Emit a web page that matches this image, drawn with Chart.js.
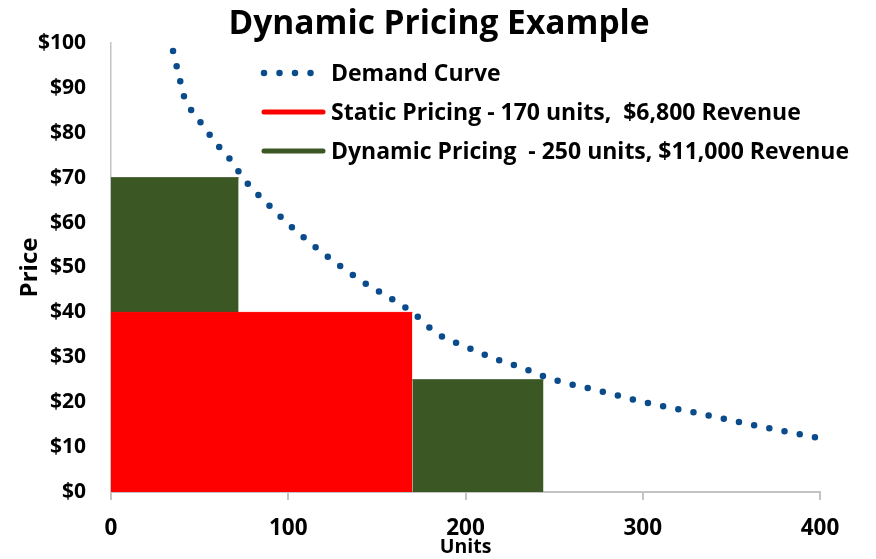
<!DOCTYPE html>
<html>
<head>
<meta charset="utf-8">
<script src="https://cdn.jsdelivr.net/npm/chart.js@4.4.1/dist/chart.umd.min.js"></script>
<style>
  body { margin: 0; background: #fff; }
  #wrap { width: 876px; height: 559px; position: relative; }
</style>
</head>
<body>
<div id="wrap"><canvas id="pricingChart"></canvas></div>
<script>
// Demand curve
const demandUnits = [35, 37, 39, 41, 45, 50, 55, 60, 66, 76, 88, 100, 120, 141, 164, 171, 184, 200, 216, 233, 249, 275, 301, 327, 353, 379, 400];
const demandPrice = [98.2, 94.9, 91.6, 88.3, 85.2, 82.6, 79.9, 77.3, 74.7, 69.2, 64.3, 59.7, 53.1, 47.1, 41.6, 39.7, 35.3, 32.4, 29.8, 27.5, 25.1, 22.6, 20.0, 17.9, 15.7, 13.6, 12.0];

// Static pricing block: 170 units at $40
const staticUnits = [0, 170];
const staticPrice = [40, 40];

// Dynamic pricing tiers
const dynHighUnits = [0, 72];
const dynHighPrice = [70, 70];
const dynHighFloor = 40;
const dynLowUnits = [170, 244];
const dynLowPrice = [25, 25];

const xTicks = [0, 100, 200, 300, 400];
const yTicks = [0, 10, 20, 30, 40, 50, 60, 70, 80, 90, 100];

const labels = {
  demand: 'Demand Curve',
  static: 'Static Pricing - 170 units,  $6,800 Revenue',
  dynamic: 'Dynamic Pricing  - 250 units, $11,000 Revenue'
};

const navy = '#0a4b8c';
const red = '#ff0000';
const green = '#3b5724';
const FONT = '"Open Sans", Lato, sans-serif';

function pts(xs, ys) {
  return xs.map((x, i) => ({ x: x, y: ys[i] }));
}

// legend drawn inside the plot, like the original
const insideLegend = {
  id: 'insideLegend',
  afterDatasetsDraw(chart) {
    const ctx = chart.ctx;
    const area = chart.chartArea;
    const x0 = area.left + 151;
    let y = area.top + 30;
    ctx.save();
    ctx.font = 'bold 23px ' + FONT;
    ctx.textBaseline = 'middle';
    ctx.fillStyle = '#000';
    chart.data.datasets.forEach(ds => {
      if (ds.hideInLegend) return;
      ctx.beginPath();
      ctx.strokeStyle = ds.borderColor;
      ctx.lineCap = 'round';
      if (ds.borderDash) {
        ctx.lineWidth = ds.borderWidth;
        ctx.setLineDash(ds.borderDash);
        ctx.moveTo(x0 + 2, y);
        ctx.lineTo(x0 + 50, y);
      } else {
        ctx.lineWidth = 5;
        ctx.setLineDash([]);
        ctx.moveTo(x0 + 2, y);
        ctx.lineTo(x0 + 61, y);
      }
      ctx.stroke();
      ctx.setLineDash([]);
      ctx.fillText(ds.label, x0 + 69, y + 1);
      y += 39;
    });
    ctx.restore();
  }
};

new Chart(document.getElementById('pricingChart'), {
  type: 'line',
  data: {
    datasets: [
      {
        label: labels.demand,
        data: pts(demandUnits, demandPrice),
        borderColor: navy,
        borderWidth: 6.5,
        borderDash: [0, 15.5],
        borderCapStyle: 'round',
        cubicInterpolationMode: 'monotone',
        pointRadius: 0,
        fill: false
      },
      {
        label: labels.static,
        data: pts(staticUnits, staticPrice),
        borderColor: red,
        backgroundColor: red,
        borderWidth: 1,
        pointRadius: 0,
        fill: 'origin'
      },
      {
        label: labels.dynamic,
        data: pts(dynHighUnits, dynHighPrice),
        borderColor: green,
        backgroundColor: green,
        borderWidth: 1,
        pointRadius: 0,
        fill: { value: dynHighFloor }
      },
      {
        label: labels.dynamic,
        hideInLegend: true,
        data: pts(dynLowUnits, dynLowPrice),
        borderColor: green,
        backgroundColor: green,
        borderWidth: 1,
        pointRadius: 0,
        fill: 'origin'
      }
    ]
  },
  options: {
    responsive: true,
    maintainAspectRatio: false,
    animation: false,
    layout: { padding: { left: 2, right: 0, top: 0, bottom: 0 } },
    plugins: {
      legend: { display: false },
      tooltip: { enabled: false },
      title: {
        display: true,
        text: 'Dynamic Pricing Example',
        color: '#000',
        font: { family: FONT, size: 33.5, weight: 'bold', lineHeight: 1.0 },
        padding: { top: 8, bottom: 1.5 }
      }
    },
    scales: {
      x: {
        type: 'linear',
        min: xTicks[0],
        max: xTicks[xTicks.length - 1],
        afterBuildTicks: s => { s.ticks = xTicks.map(v => ({ value: v })); },
        afterFit: s => { s.height = 67; },
        border: { display: true, color: '#c3c3c3', width: 2 },
        grid: { drawOnChartArea: false, drawTicks: true, tickLength: 8, color: '#c3c3c3', lineWidth: 2 },
        ticks: { color: '#000', padding: 15, font: { family: FONT, size: 22.5, weight: 'bold' } },
        title: {
          display: true,
          text: 'Units',
          color: '#000',
          font: { family: FONT, size: 19.5, weight: 'bold' },
          padding: { top: 0, bottom: 0 }
        }
      },
      y: {
        min: yTicks[0],
        max: yTicks[yTicks.length - 1],
        afterBuildTicks: s => { s.ticks = yTicks.map(v => ({ value: v })); },
        afterFit: s => { s.width = 109; },
        border: { display: true, color: '#c3c3c3', width: 1.5 },
        grid: { drawOnChartArea: false, drawTicks: false },
        ticks: {
          color: '#000',
          padding: 25,
          font: { family: FONT, size: 21, weight: 'bold' },
          callback: v => '$' + v
        },
        title: {
          display: true,
          text: 'Price',
          color: '#000',
          font: { family: FONT, size: 24, weight: 'bold' },
          padding: { top: 14, bottom: 0 }
        }
      },
      // empty right-hand margin, keeps the title centred like the original
      margin: {
        position: 'right',
        afterFit: s => { s.width = 56; },
        border: { display: false },
        grid: { display: false },
        ticks: { display: false }
      }
    }
  },
  plugins: [insideLegend]
});
</script>
</body>
</html>
